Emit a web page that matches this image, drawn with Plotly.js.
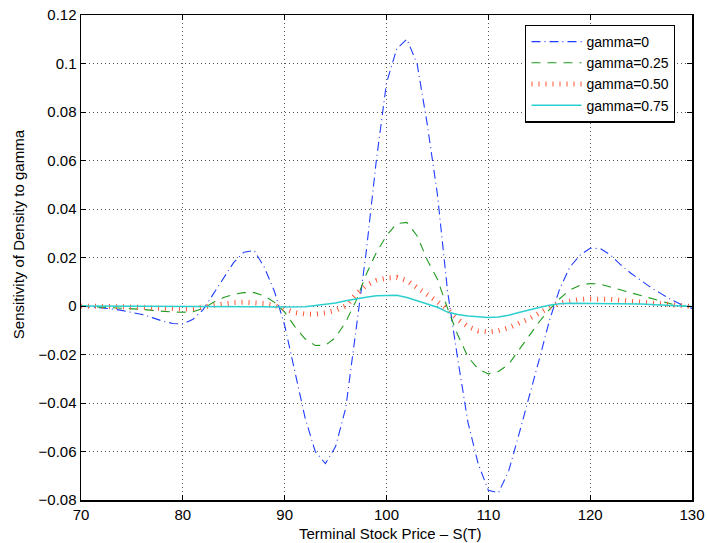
<!DOCTYPE html>
<html>
<head>
<meta charset="utf-8">
<script src="https://cdn.plot.ly/plotly-3.0.1.min.js"></script>
<style>html,body{margin:0;padding:0;background:#fff;}#chart{width:707px;height:543px;}</style>
</head>
<body>
<div id="chart"></div>
<script>
// Terminal stock price grid
var stockPrice = [70,71,72,73,74,75,76,77,78,79,80,81,82,83,84,85,86,87,88,89,90,91,92,93,94,95,96,97,98,99,100,
  101,102,103,104,105,106,107,108,109,110,111,112,113,114,115,116,117,118,119,120,121,122,123,124,125,126,127,128,129,130];

var gamma0 = [0,-0.0003,-0.0007,-0.0012,-0.0018,-0.0025,-0.0035,-0.0048,-0.0062,-0.0072,-0.0074,-0.0055,-0.0015,0.005,0.0115,0.018,0.0222,0.0229,0.016,0.006,
  -0.008,-0.027,-0.046,-0.060,-0.065,-0.058,-0.042,-0.010,0.022,0.060,0.092,0.106,0.110,0.100,0.075,0.046,0.006,-0.022,-0.048,-0.065,
  -0.076,-0.077,-0.068,-0.053,-0.038,-0.022,-0.006,0.007,0.016,0.021,0.0238,0.0237,0.021,0.017,0.0135,0.0105,0.0075,0.005,0.0025,0.0005,-0.001];

var gamma025 = [0,-0.0002,-0.0004,-0.0006,-0.0008,-0.0011,-0.0014,-0.0018,-0.0022,-0.0025,-0.0026,-0.0024,-0.001,0.0015,0.0035,0.0048,0.0055,0.0055,0.0042,0.0015,
  -0.0025,-0.0085,-0.0135,-0.0163,-0.0162,-0.013,-0.0065,0.002,0.013,0.022,0.029,0.034,0.0345,0.029,0.019,0.011,-0.001,-0.012,-0.021,-0.026,
  -0.028,-0.027,-0.024,-0.018,-0.0125,-0.0065,-0.0015,0.003,0.0066,0.0085,0.0093,0.009,0.0078,0.0066,0.0055,0.0043,0.003,0.0017,0.0008,0.0001,-0.0005];

var gamma050 = [0,0,-0.0001,-0.0001,-0.0002,-0.0003,-0.0005,-0.0008,-0.001,-0.0012,-0.0012,-0.001,-0.0004,0.0004,0.001,0.0014,0.0016,0.0015,0.001,0.0002,
  -0.0012,-0.0027,-0.0033,-0.0034,-0.0028,-0.0018,0,0.0048,0.0085,0.0105,0.0115,0.0118,0.0105,0.0078,0.005,0.0018,-0.0015,-0.0055,-0.0085,-0.0102,
  -0.0107,-0.0102,-0.009,-0.0072,-0.0052,-0.003,-0.0005,0.0012,0.0022,0.0027,0.0029,0.0029,0.0027,0.0023,0.0019,0.0015,0.0011,0.0006,0.0003,0,-0.0002];

var gamma075 = [0,0,0,0,-0.0001,-0.0001,-0.0002,-0.0002,-0.0003,-0.0003,-0.0003,-0.0003,-0.0003,-0.0003,-0.0003,-0.0003,-0.0003,-0.0003,-0.0003,-0.0004,
  -0.0004,-0.0004,-0.0003,0.0002,0.0006,0.0012,0.0022,0.003,0.0036,0.0042,0.0044,0.0044,0.0035,0.0022,0.001,-0.0005,-0.0025,-0.0035,-0.0041,-0.0045,
  -0.0047,-0.0045,-0.0038,-0.0027,-0.0015,-0.0006,0.0003,0.0009,0.0011,0.0011,0.0011,0.0011,0.0011,0.0011,0.001,0.0008,0.0006,0.0004,0.0003,0.0001,-0.0002];

var seriesNames = ["gamma=0","gamma=0.25","gamma=0.50","gamma=0.75"];

var xTickVals = [70,80,90,100,110,120,130];
var xTickText = ["70","80","90","100","110","120","130"];
var yTickVals = [-0.08,-0.06,-0.04,-0.02,0,0.02,0.04,0.06,0.08,0.1,0.12];
var yTickText = ["\u22120.08","\u22120.06","\u22120.04","\u22120.02","0","0.02","0.04","0.06","0.08","0.1","0.12"];

var xTitle = "Terminal Stock Price \u2013 S(T)";
var yTitle = "Sensitivity of Density to gamma";

var FONT = "'Liberation Sans', Arial, Helvetica, sans-serif";

var traces = [
  {x: stockPrice, y: gamma0, name: seriesNames[0], mode: "lines",
   line: {color: "#1f3cff", width: 1.1, dash: "9px,4px,1px,4px"}},
  {x: stockPrice, y: gamma025, name: seriesNames[1], mode: "lines",
   line: {color: "#1f9a1f", width: 1.1, dash: "9px,7px"}},
  {x: stockPrice, y: gamma050, name: seriesNames[2], mode: "lines",
   line: {color: "#ff5533", width: 5, dash: "1px,6px"}},
  {x: stockPrice, y: gamma075, name: seriesNames[3], mode: "lines",
   line: {color: "#2ccfcf", width: 1.5}}
];

var axisCommon = {
  showline: true, linecolor: "#000", linewidth: 1.5, mirror: "ticks",
  ticks: "inside", ticklen: 5, tickcolor: "#000", tickwidth: 1,
  showgrid: true, gridcolor: "#555", gridwidth: 1, griddash: "1px,3px",
  zeroline: false, tickfont: {family: FONT, size: 15, color: "#000"}
};

var layout = {
  width: 707, height: 543,
  margin: {l: 81, r: 15, t: 15, b: 43},
  paper_bgcolor: "#fff", plot_bgcolor: "#fff",
  font: {family: FONT, size: 15, color: "#000"},
  xaxis: Object.assign({}, axisCommon, {range: [70,130], tickmode: "array", tickvals: xTickVals, ticktext: xTickText}),
  yaxis: Object.assign({}, axisCommon, {range: [-0.08,0.12], tickmode: "array", tickvals: yTickVals, ticktext: yTickText}),
  showlegend: true,
  legend: {x: 0.727, y: 0.98, xanchor: "left", yanchor: "top",
    bgcolor: "#fff", bordercolor: "#000", borderwidth: 1.3, itemwidth: 50,
    font: {family: FONT, size: 14, color: "#000"}},
  annotations: [
    {text: xTitle, xref: "paper", yref: "paper", x: 0.507, y: 0, yshift: -33, xanchor: "center", yanchor: "middle", showarrow: false,
     font: {family: FONT, size: 15, color: "#000"}},
    {text: yTitle, xref: "paper", yref: "paper", x: 0, xshift: -63, y: 0.548, textangle: -90, xanchor: "center", yanchor: "middle", showarrow: false,
     font: {family: FONT, size: 15, color: "#000"}}
  ]
};

Plotly.newPlot("chart", traces, layout, {displayModeBar: false, staticPlot: true});
</script>
</body>
</html>
